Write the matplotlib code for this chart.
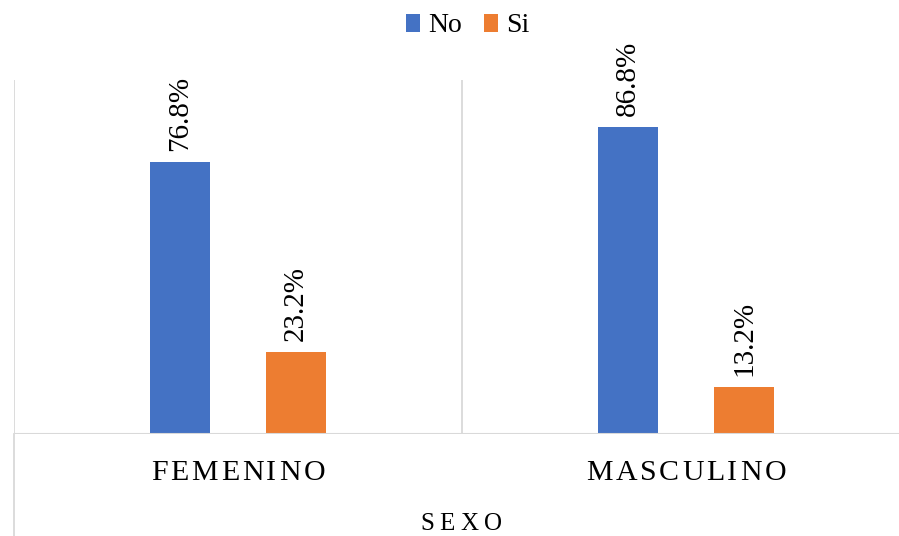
#!/usr/bin/env python3
"""
Bar chart: No / Si by SEXO
"""
import matplotlib
matplotlib.use('Agg')
import matplotlib.pyplot as plt
from matplotlib.lines import Line2D
from matplotlib.transforms import IdentityTransform
import numpy as np

categories = ['FEMENINO', 'MASCULINO']
series_names = ['No', 'Si']
no_values = [76.8, 86.8]
si_values = [23.2, 13.2]
axis_title = 'SEXO'

BLUE = '#4472C4'
ORANGE = '#ED7D31'
GRID = '#D9D9D9'

plt.rcParams['font.family'] = ['Liberation Serif', 'DejaVu Serif']

W, H = 899, 536
fig = plt.figure(figsize=(W / 100, H / 100), dpi=100)


def spaced_text(cx, baseline, text, size, track):
  """Draw text with extra letter spacing; cx/baseline in pixels from top-left."""
  r = fig.canvas.get_renderer()
  widths = []
  for ch in text:
    t = fig.text(0, 0, ch, fontsize=size)
    widths.append(t.get_window_extent(r).width)
    t.remove()
  total = sum(widths) + track * (len(text) - 1)
  xp = cx - total / 2
  for ch, w in zip(text, widths):
    fig.text(xp, H - baseline, ch, fontsize=size, ha='left', va='baseline',
             transform=IdentityTransform())
    xp += w + track


# plot area: x 14..910 px, y 80..434 px (right edge runs off the image)
ax = fig.add_axes([14 / W, (H - 434) / H, 896 / W, (434 - 80) / H])

x = np.arange(len(categories))
off = 0.13
width = 0.134
b1 = ax.bar(x - off, no_values, width, color=BLUE, label=series_names[0], zorder=3)
b2 = ax.bar(x + off, si_values, width, color=ORANGE, label=series_names[1], zorder=3)

for bars, vals in ((b1, no_values), (b2, si_values)):
  for rect, v in zip(bars, vals):
    ax.annotate('%.1f%%' % v, (rect.get_x() + rect.get_width() / 2, v),
                xytext=(0, 8), textcoords='offset points',
                rotation=90, ha='center', va='bottom', fontsize=21,
                color='#000000')

ax.set_xlim(-0.5, len(categories) - 0.5)
ax.set_ylim(0, 100)
for s in ax.spines.values():
  s.set_visible(False)
ax.set_xticks([])
ax.set_yticks([])

# category separators and baseline
for xb in np.arange(len(categories) + 1) - 0.5:
  ax.axvline(xb, color=GRID, lw=1.3, zorder=1)
ax.axhline(0, color=GRID, lw=1.5, zorder=4)
fig.add_artist(Line2D([14 / W, 14 / W], [0, (H - 434) / H],
                      color=GRID, lw=1.3, transform=fig.transFigure))

# category labels (centre of each category, in pixels)
fig.canvas.draw()
for xi, name in zip(x, categories):
  cx = ax.transData.transform((xi, 0))[0]
  spaced_text(cx, 480, name, 21.5, 2.8)

spaced_text(461, 529.5, axis_title, 18, 5.5)

fig.legend(handles=[b1, b2], labels=series_names, loc='center',
           bbox_to_anchor=(468 / W, 1 - 26 / H), ncol=2, frameon=False,
           fontsize=20, handlelength=0.5, handleheight=0.6,
           handletextpad=0.3, columnspacing=0.8, borderpad=0)

fig.savefig('out.png', dpi=100)
